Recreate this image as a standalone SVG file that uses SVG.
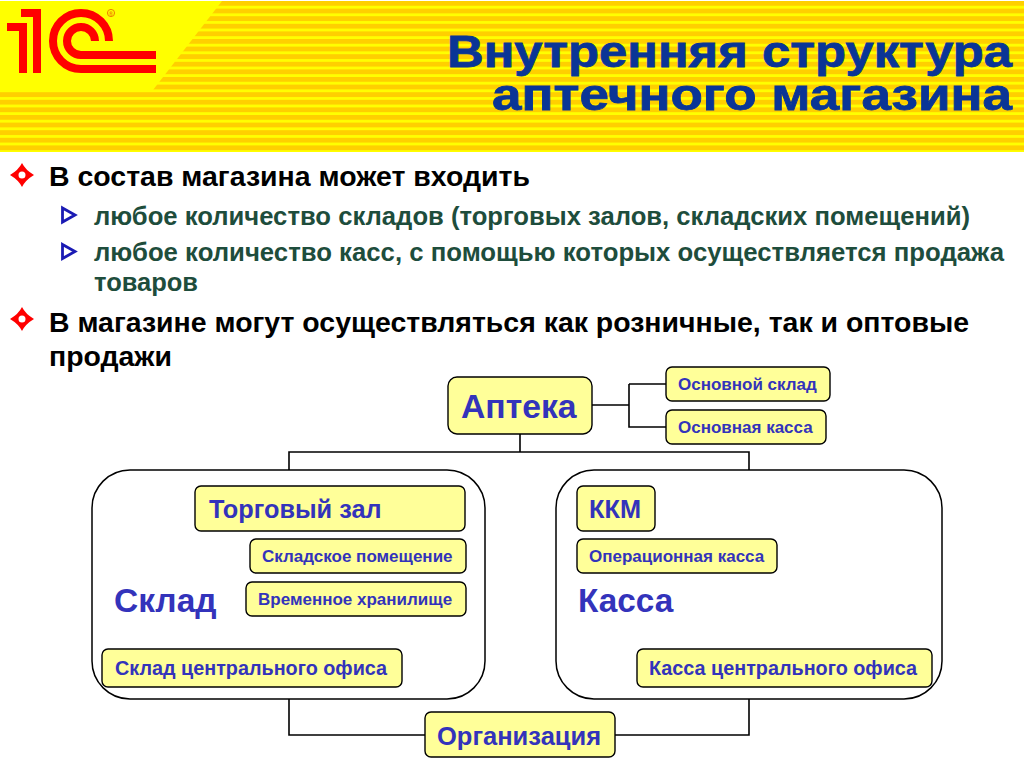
<svg xmlns="http://www.w3.org/2000/svg" width="1024" height="768" viewBox="0 0 1024 768">
<style>
text{font-family:"Liberation Sans",Arial,sans-serif;font-weight:bold}
.title{font-size:45px;fill:#0a3596;stroke:#0a3596;stroke-width:.8}
.l1{font-size:27.500px;fill:#000}
.l2{font-size:25px;fill:#1e4d3c}
.box{fill:#ffff99;stroke:#000;stroke-width:1.4}
.big{fill:#3333bb}
.cn{fill:none;stroke:#000;stroke-width:1.6}
.group{fill:#fff;stroke:#000;stroke-width:1.5}
.logo{fill:none;stroke:#f00;stroke-width:8}
</style>
<defs>
<pattern id="st" width="10" height="7.600" patternUnits="userSpaceOnUse" y="1"><rect width="10" height="7.600" fill="#ffcf00"/><rect width="10" height="2.800" y="4.800" fill="#ffff00"/></pattern>
<path id="dia" d="M0-12Q3.500-5 12 0Q3.500 5 0 12Q-3.500 5-12 0Q-3.500-5 0-12ZM0-3.500A3.500 3.500 0 1 0 0 3.500A3.500 3.500 0 1 0 0-3.500Z" fill="#f00" fill-rule="evenodd"/>
<path id="tri" d="M-5.500-7L7 0L-5.500 7Z" fill="#fff" stroke="#1a1ab4" stroke-width="2.800"/>
</defs>
<g id="header">
<rect x="0" y="1" width="1024" height="151" fill="url(#st)"/>
<path d="M0 1H222L153 90H0Z" fill="#ffff00"/>
<path class="logo" d="M7 27H23V73M21 13H37V73"/>
<path class="logo" d="M109 41A28 28 0 1 0 81 69H156M95 41A14 14 0 1 0 81 55H156"/>
<circle cx="111" cy="13" r="3.600" fill="none" stroke="#f08000" stroke-width="1"/>
<text x="111" y="15.500" font-size="6" fill="#f08000" text-anchor="middle">®</text>
<text class="title" x="447" y="67" textLength="565" lengthAdjust="spacingAndGlyphs">Внутренняя структура</text>
<text class="title" x="492" y="110" textLength="520" lengthAdjust="spacingAndGlyphs">аптечного магазина</text>
</g>
<g id="bullets">
<use href="#dia" x="22" y="175"/>
<text class="l1" x="49" y="186" textLength="481" lengthAdjust="spacingAndGlyphs">В состав магазина может входить</text>
<use href="#tri" x="68" y="215"/>
<text class="l2" x="94" y="225" textLength="876" lengthAdjust="spacingAndGlyphs">любое количество складов (торговых залов, складских помещений)</text>
<use href="#tri" x="68" y="251.500"/>
<text class="l2" x="94" y="261" textLength="910" lengthAdjust="spacingAndGlyphs">любое количество касс, с помощью которых осуществляется продажа</text>
<text class="l2" x="94" y="291" textLength="104" lengthAdjust="spacingAndGlyphs">товаров</text>
<use href="#dia" x="22" y="319"/>
<text class="l1" x="49" y="332" textLength="920" lengthAdjust="spacingAndGlyphs">В магазине могут осуществляться как розничные, так и оптовые</text>
<text class="l1" x="49" y="366" textLength="123" lengthAdjust="spacingAndGlyphs">продажи</text>
</g>
<g id="connectors">
<path class="cn" d="M592 405H629M629 384H666M629 384V427H666M520 434V452M289 470V452H749V470M289 699V735H425M749 699V735H615"/>
</g>
<g id="sklad"><rect class="group" x="92" y="470" width="393" height="229" rx="38"/><text class="big" x="114" y="612" font-size="33.500">Склад</text></g>
<g id="kassa"><rect class="group" x="556" y="470" width="386" height="229" rx="38"/><text class="big" x="578" y="612" font-size="33.300">Касса</text></g>
<g id="apteka"><rect class="box" x="448" y="377" width="144" height="57" rx="9"/><text class="big" x="461" y="418" font-size="33.700">Аптека</text></g>
<g id="osn-sklad"><rect class="box" x="666" y="367" width="164" height="34" rx="6"/><text class="big" x="678" y="390" font-size="17">Основной склад</text></g>
<g id="osn-kassa"><rect class="box" x="666" y="410" width="160" height="34" rx="6"/><text class="big" x="678" y="433" font-size="17">Основная касса</text></g>
<g id="torg"><rect class="box" x="195" y="486" width="270" height="45" rx="6"/><text class="big" x="209" y="518" font-size="25.300">Торговый зал</text></g>
<g id="sklad-pom"><rect class="box" x="250" y="539" width="216" height="34" rx="6"/><text class="big" x="262" y="562" font-size="17">Складское помещение</text></g>
<g id="vrem"><rect class="box" x="246" y="582" width="220" height="34" rx="6"/><text class="big" x="258" y="605" font-size="17">Временное хранилище</text></g>
<g id="sklad-co"><rect class="box" x="102" y="649" width="300" height="38" rx="6"/><text class="big" x="115" y="675" font-size="19.800">Склад центрального офиса</text></g>
<g id="kkm"><rect class="box" x="577" y="486" width="78" height="45" rx="6"/><text class="big" x="589" y="518" font-size="25.300">ККМ</text></g>
<g id="oper"><rect class="box" x="577" y="539" width="200" height="34" rx="6"/><text class="big" x="589" y="562" font-size="17">Операционная касса</text></g>
<g id="kassa-co"><rect class="box" x="637" y="649" width="295" height="38" rx="6"/><text class="big" x="649" y="675" font-size="19.800">Касса центрального офиса</text></g>
<g id="org"><rect class="box" x="425" y="712" width="190" height="45" rx="6"/><text class="big" x="437" y="745" font-size="25.500">Организация</text></g>
</svg>
